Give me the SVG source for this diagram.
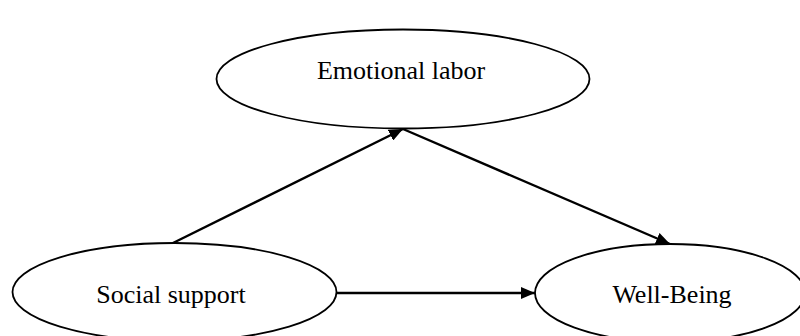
<svg xmlns="http://www.w3.org/2000/svg" width="800" height="336" viewBox="0 0 800 336">
<style>
.node ellipse{fill:#fff;stroke:#000;stroke-width:1.8}
.node text{font-family:"Liberation Serif","Times New Roman",serif;font-size:26px;fill:#000;text-anchor:middle}
.edge{stroke:#000;stroke-width:2.4;fill:none;marker-end:url(#ah)}
</style>
<defs>
<marker id="ah" viewBox="0 0 14 12" refX="14" refY="6" markerWidth="14" markerHeight="12" markerUnits="userSpaceOnUse" orient="auto">
<path d="M0,0 L14,6 L0,12 Z" fill="#000"/>
</marker>
</defs>
<rect width="800" height="336" fill="#fff"/>
<g id="n-emotional" class="node">
<ellipse cx="403" cy="79" rx="186.5" ry="49.5"/>
<text x="401" y="79">Emotional labor</text>
</g>
<g id="n-social" class="node">
<ellipse cx="174.5" cy="292" rx="162" ry="49"/>
<text x="171" y="303">Social support</text>
</g>
<g id="n-wellbeing" class="node">
<ellipse cx="670" cy="293" rx="135" ry="49"/>
<text x="672" y="303">Well-Being</text>
</g>
<g id="edges">
<line class="edge" x1="173" y1="243" x2="403" y2="129"/>
<line class="edge" x1="403" y1="129" x2="670" y2="244"/>
<line class="edge" x1="337" y1="293" x2="535" y2="293"/>
</g>
</svg>
